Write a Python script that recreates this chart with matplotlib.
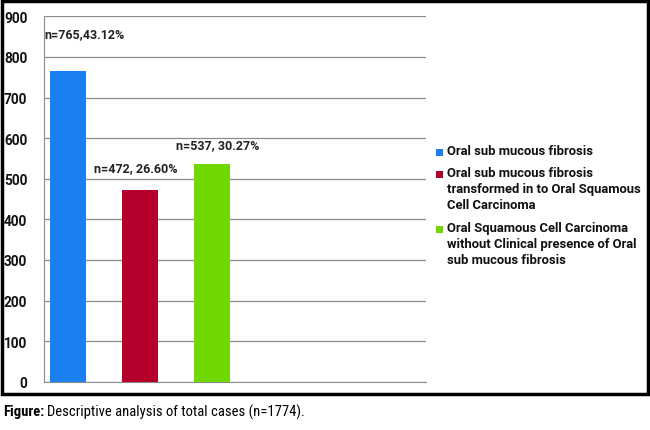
import matplotlib.pyplot as plt
from matplotlib import font_manager
from matplotlib.patches import Rectangle

# data
categories = ['Oral sub mucous fibrosis',
              'Oral sub mucous fibrosis\ntransformed in to Oral Squamous\nCell Carcinoma',
              'Oral Squamous Cell Carcinoma\nwithout Clinical presence of Oral\nsub mucous fibrosis']
counts = [765, 472, 537]
bar_labels = ['n=765,43.12%', 'n=472, 26.60%', 'n=537, 30.27%']
colors = ['#1a7ff0', '#b5002b', '#6fd800']
yticks = [0, 100, 200, 300, 400, 500, 600, 700, 800, 900]

# pick a narrow font for the caption if one is installed
names = {f.name for f in font_manager.fontManager.ttflist}
cap_font = {'family': 'DejaVu Sans', 'stretch': 'condensed'}
for n in ['Liberation Sans Narrow', 'Roboto Condensed', 'Open Sans Condensed', 'Noto Sans Condensed']:
    if n in names:
        cap_font = {'family': n}
        break

BOLD = 'Roboto'

fig = plt.figure(figsize=(6.5, 4.31), dpi=100)
W, H = 650, 431
ax = fig.add_axes([44 / W, 1 - 382.7 / H, (426 - 44) / W, (382.7 - 17.3) / H])

pos = list(range(len(counts)))
ax.bar(pos, counts, width=0.5, color=colors, zorder=3)

# label positions as seen in the picture
label_x = [0.23, 0.94, 2.08]
label_y = [858, 528, 584]
for lx, ly, txt in zip(label_x, label_y, bar_labels):
    ax.text(lx, ly, txt, ha='center', va='center', fontsize=9,
            fontweight='bold', family=BOLD, color='#222222')

ax.set_xlim(-0.333, 4.97)
ax.set_ylim(0, 900)
ax.set_yticks(yticks)
ax.set_xticks([])
ax.yaxis.grid(True, color='#8c8c8c', linewidth=0.9, zorder=0)
for s in ['top', 'right']:
    ax.spines[s].set_visible(False)
ax.spines['left'].set_color('#8c8c8c')
ax.spines['bottom'].set_color('#8c8c8c')
ax.tick_params(axis='y', length=0, pad=12)
for t in ax.get_yticklabels():
    t.set_fontweight('bold')
    t.set_fontsize(9.8)
    t.set_family(BOLD)
    t.set_color('#111111')

# legend drawn by hand so the square sits on the first line
leg_top = [153, 175, 230]
for c, lab, yt in zip(colors, categories, leg_top):
    fig.patches.append(Rectangle((435.5 / W, 1 - (yt + 3.5) / H), 7 / W, 7 / H,
                                 transform=fig.transFigure, facecolor=c, edgecolor='none'))
    fig.text(447 / W, 1 - (yt - 8) / H, lab, ha='left', va='top', fontsize=9.4,
             fontweight='bold', family=BOLD, linespacing=1.28, color='#111111')

# black frame around the chart
fig.patches.append(Rectangle((1.5 / W, 1 - 395 / H), 646 / W, 393 / H,
                             transform=fig.transFigure, fill=False,
                             edgecolor='black', linewidth=2.5))

# caption
cap1 = fig.text(3 / W, 1 - 412 / H, 'Figure:', fontsize=10.5, fontweight='bold',
                va='center', **cap_font)
fig.canvas.draw()
bb = cap1.get_window_extent()
fig.text(bb.x1 / W + 3 / W, 1 - 412 / H, 'Descriptive analysis of total cases (n=1774).',
         fontsize=10.5, va='center', **cap_font)

fig.savefig('out.png', dpi=100)
